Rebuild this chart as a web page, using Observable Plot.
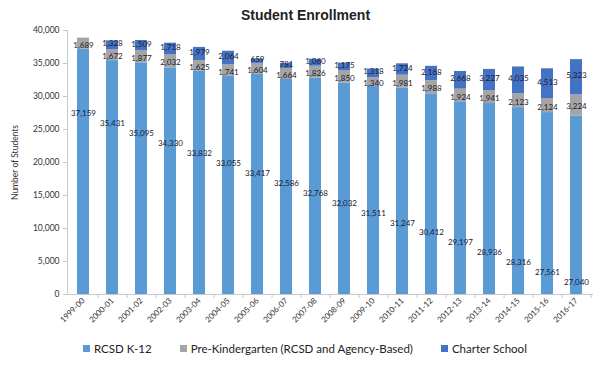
<!DOCTYPE html>
<html>
<head>
<meta charset="utf-8">
<script src="https://cdn.jsdelivr.net/npm/d3@7"></script>
<script src="https://cdn.jsdelivr.net/npm/@observablehq/plot@0.6"></script>
<style>
  body { margin: 0; background: #fff; font-family: Lato, "Liberation Sans", sans-serif; }
  #wrap { width: 611px; height: 384px; position: relative; overflow: hidden; }
  #title { font-family: "Liberation Sans", Arial, sans-serif; font-weight: bold; font-size: 14px; text-align: center; height: 26px; line-height: 30px; color: #222; }
  #legend { display: flex; gap: 28px; padding-left: 83px; font-size: 11.5px; color: #222; margin-top: 6px; }
  #legend span.sw { display: inline-block; width: 7px; height: 7px; margin-right: 4px; }
  #legend div { display: flex; align-items: center; }
</style>
</head>
<body>
<div id="wrap">
  <div id="title">Student Enrollment</div>
  <div id="chart"></div>
  <div id="legend"></div>
</div>
<script>
const seasons = ["1999-00","2000-01","2001-02","2002-03","2003-04","2004-05","2005-06","2006-07","2007-08","2008-09","2009-10","2010-11","2011-12","2012-13","2013-14","2014-15","2015-16","2016-17"];
const k12 = [37159,35431,35095,34330,33832,33055,33417,32586,32768,32032,31511,31247,30412,29197,28936,28316,27561,27040];
const preK = [1689,1672,1877,2032,1625,1741,1604,1664,1826,1850,1340,1981,1988,1924,1941,2123,2124,3224];
const charter = [0,1328,1509,1718,1979,2064,659,781,1060,1175,1318,1724,2168,2668,3227,4035,4513,5323];
const seriesNames = ["RCSD K-12","Pre-Kindergarten (RCSD and Agency-Based)","Charter School"];
const seriesColors = ["#5B9BD5","#A5A5A5","#4472C4"];
const yTicks = [0,5000,10000,15000,20000,25000,30000,35000,40000];

const rows = seasons.flatMap((s, i) => [
  {season: s, series: seriesNames[0], value: k12[i]},
  {season: s, series: seriesNames[1], value: preK[i]},
  {season: s, series: seriesNames[2], value: charter[i]}
]);

// K-12 labels are laid out on a descending diagonal in the original
const labelPos = d3.scaleLinear().domain([0, seasons.length - 1]).range([27400, 1800]);
const k12Labels = seasons.map((s, i) => ({season: s, y: labelPos(i), text: d3.format(",")(k12[i])}));
const preKLabels = seasons.map((s, i) => ({season: s, y: k12[i] + preK[i] / 2, text: d3.format(",")(preK[i])}));
const charterLabels = seasons.map((s, i) => ({season: s, y: k12[i] + preK[i] + charter[i] / 2, v: charter[i], text: d3.format(",")(charter[i])})).filter(d => d.v > 0);

const step = 525 / 18;
const chart = Plot.plot({
  width: 611,
  height: 310,
  marginLeft: 67,
  marginRight: 19,
  marginTop: 4,
  marginBottom: 42,
  style: {fontFamily: "Lato, 'Liberation Sans', sans-serif", background: "#fff"},
  x: {domain: seasons, paddingInner: 0.58, paddingOuter: 0.29},
  y: {domain: [0, 40000]},
  color: {domain: seriesNames, range: seriesColors},
  marks: [
    Plot.barY(rows, {x: "season", y: "value", fill: "series"}),
    Plot.frame({anchor: "left", stroke: "#c8c8c8"}),
    Plot.frame({anchor: "bottom", stroke: "#c8c8c8"}),
    Plot.axisY({ticks: yTicks, tickFormat: d3.format(","), tickSize: 4, tickPadding: 4, stroke: "#c8c8c8", fill: "#333", fontSize: 8.5,
      label: "Number of Students", labelAnchor: "center", labelArrow: "none", labelOffset: 56}),
    Plot.axisX({tickSize: 0, tickRotate: -45, tickPadding: 5, fill: "#333", fontSize: 8, label: null}),
    Plot.axisX({tickSize: 4, tickFormat: () => "", stroke: "#c8c8c8", dx: step / 2, label: null}),
    Plot.text(k12Labels, {x: "season", y: "y", text: "text", fontSize: 8, fill: "#1a1a2e"}),
    Plot.text(preKLabels, {x: "season", y: "y", text: "text", fontSize: 8, fill: "#1a1a2e", dy: 1.5}),
    Plot.text(charterLabels, {x: "season", y: "y", text: "text", fontSize: 8, fill: "#1a1a2e", dy: -1.5})
  ]
});
document.getElementById("chart").appendChild(chart);

const legend = document.getElementById("legend");
seriesNames.forEach((n, i) => {
  const d = document.createElement("div");
  d.innerHTML = `<span class="sw" style="background:${seriesColors[i]}"></span>${n}`;
  legend.appendChild(d);
});
</script>
</body>
</html>
